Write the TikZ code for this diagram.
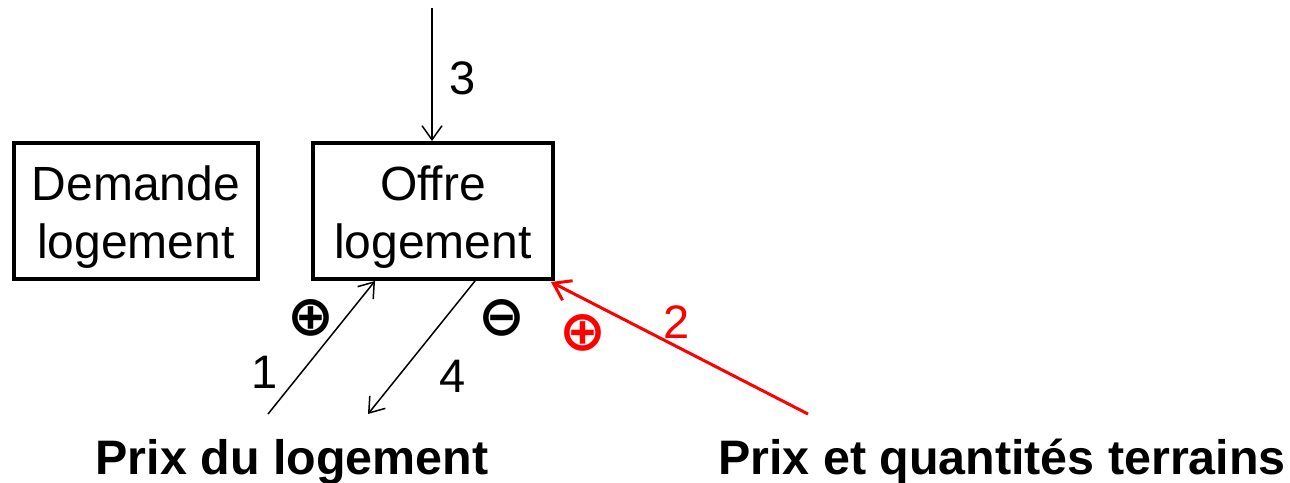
\documentclass[tikz,border=0pt]{standalone}
\usepackage{fontspec}
\setmainfont{Liberation Sans}
\newfontfamily\symbfont{DejaVu Sans}
\usetikzlibrary{arrows.meta}
\begin{document}
\begin{tikzpicture}[x=0.5pt, y=-0.5pt,
	box/.style={draw, line width=2pt, minimum width=120pt, minimum height=68pt, align=center, inner sep=0pt, text height=47pt, text depth=0pt, font=\fontsize{24}{29}\selectfont},
	lbl/.style={font=\fontsize{23.5}{26.5}\selectfont},
	titre/.style={font=\fontsize{24.2}{26.5}\selectfont\bfseries, anchor=base},
	signe/.style={font=\fontsize{28}{30}\selectfont\symbfont\bfseries, inner sep=0pt},
	fl/.style={line width=0.75pt, -{Straight Barb[length=7pt, width=10pt]}},
	flrouge/.style={line width=1.5pt, red, -{Straight Barb[length=8pt, width=11pt]}}]
			%%%%% START %%%%%
			
			\useasboundingbox (0, 0) rectangle (1290, 482);
			
			\node[box, minimum width=122pt] (demande) at (136, 211) {Demande\\logement};
			\node[box] (offre) at (433, 211) {Offre\\logement};
			
			\node[titre] (prixlog) at (292, 474) {Prix du logement};
			\node[titre] (prixterr) at (1002, 474) {Prix et quantit\'es terrains};
			
			\coordinate (haut) at (432, 8);
			\coordinate (dep1) at (268, 414);
			\coordinate (arr4) at (368, 414);
			\coordinate (dep2) at (808, 414);
			
			\draw[fl] (haut) -- (offre.north -| haut);
			\draw[fl] (dep1) -- (375, 281);
			\draw[fl] (475, 281) -- (arr4);
			\draw[flrouge] (dep2) -- ([shift={(-4,1)}]offre.south east);
			
			\node[lbl] (n3) at (463, 78) {3};
			\node[lbl] (n1) at (265, 372) {1};
			\node[lbl] (n4) at (453, 376) {4};
			\node[lbl, red] (n2) at (677, 322) {2};
			
			\node[signe] (plus1) at (311, 318) {⊕};
			\node[signe] (moins4) at (502, 318) {⊖};
			\node[signe, red] (plus2) at (583, 333) {⊕};
			
			%%%%% END %%%%%
\end{tikzpicture}
\end{document}
